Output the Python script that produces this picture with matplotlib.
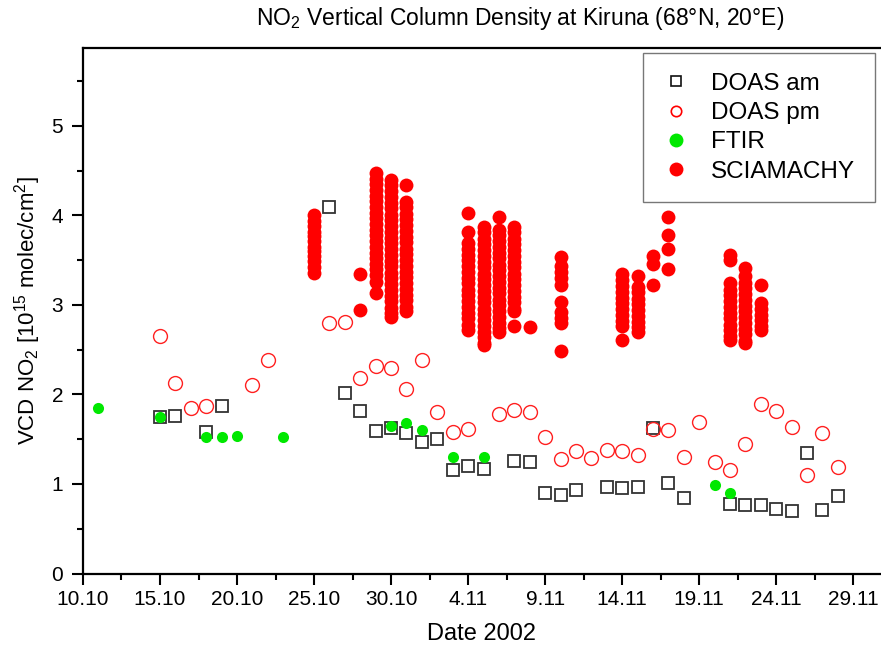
import matplotlib
matplotlib.use("Agg")
import matplotlib.pyplot as plt
import matplotlib.dates as mdates
from matplotlib.ticker import MultipleLocator, FuncFormatter
from matplotlib.lines import Line2D
import pandas as pd

plt.rcParams['font.family'] = ['Liberation Sans', 'DejaVu Sans']
plt.rcParams['mathtext.fontset'] = 'custom'
plt.rcParams['mathtext.rm'] = 'Liberation Sans'
plt.rcParams['mathtext.it'] = 'Liberation Sans:italic'
plt.rcParams['mathtext.bf'] = 'Liberation Sans:bold'

# DOAS morning values
am_dates = ["15.10", "16.10", "18.10", "19.10", "26.10", "27.10", "28.10", "29.10",
            "30.10", "31.10", "1.11", "2.11", "3.11", "4.11", "5.11", "7.11", "8.11",
            "9.11", "10.11", "11.11", "13.11", "14.11", "15.11", "16.11", "17.11",
            "18.11", "21.11", "22.11", "23.11", "24.11", "25.11", "26.11", "27.11", "28.11"]
am_values = [1.75, 1.76, 1.58, 1.87, 4.09, 2.02, 1.82, 1.59, 1.63, 1.57, 1.47, 1.50,
             1.16, 1.20, 1.17, 1.26, 1.24, 0.90, 0.88, 0.93, 0.97, 0.95, 0.97, 1.62,
             1.01, 0.84, 0.78, 0.77, 0.76, 0.72, 0.695, 1.35, 0.71, 0.87]

# DOAS afternoon values
pm_dates = ["15.10", "16.10", "17.10", "18.10", "21.10", "22.10", "26.10", "27.10",
            "28.10", "29.10", "30.10", "31.10", "1.11", "2.11", "3.11", "4.11", "6.11",
            "7.11", "8.11", "9.11", "10.11", "11.11", "12.11", "13.11", "14.11", "15.11",
            "16.11", "17.11", "18.11", "19.11", "20.11", "21.11", "22.11", "23.11",
            "24.11", "25.11", "26.11", "27.11", "28.11"]
pm_values = [2.65, 2.13, 1.85, 1.875, 2.11, 2.39, 2.80, 2.81, 2.18, 2.32, 2.29, 2.06,
             2.39, 1.80, 1.58, 1.61, 1.78, 1.83, 1.80, 1.52, 1.28, 1.37, 1.29, 1.38,
             1.37, 1.32, 1.61, 1.60, 1.30, 1.69, 1.24, 1.16, 1.45, 1.89, 1.82, 1.64,
             1.10, 1.57, 1.19]

# FTIR
ftir_dates = ["11.10", "15.10", "18.10", "19.10", "20.10", "23.10", "30.10", "31.10",
              "1.11", "3.11", "5.11", "20.11", "21.11"]
ftir_values = [1.85, 1.75, 1.53, 1.52, 1.54, 1.52, 1.65, 1.68, 1.60, 1.30, 1.30, 0.985, 0.90]

# SCIAMACHY, several ground pixels per overpass day
sci_dates = ["25.10", "28.10", "29.10", "30.10", "31.10", "4.11", "5.11", "6.11",
             "7.11", "8.11", "10.11", "14.11", "15.11", "16.11", "17.11", "21.11",
             "22.11", "23.11"]
sci_values = [
    [4.00, 3.94, 3.88, 3.82, 3.77, 3.71, 3.65, 3.60, 3.55, 3.49, 3.42, 3.36],
    [3.35, 2.94],
    [4.47, 4.41, 4.35, 4.28, 4.22, 4.16, 4.09, 4.03, 3.97, 3.90, 3.84, 3.78, 3.71,
     3.65, 3.58, 3.52, 3.46, 3.40, 3.33, 3.26, 3.13],
    [4.40, 4.34, 4.27, 4.21, 4.14, 4.08, 4.01, 3.95, 3.88, 3.82, 3.75, 3.69, 3.62,
     3.56, 3.49, 3.43, 3.36, 3.30, 3.23, 3.17, 3.10, 3.04, 2.97, 2.91, 2.87],
    [4.34, 4.15, 4.09, 4.02, 3.96, 3.89, 3.83, 3.76, 3.70, 3.63, 3.57, 3.50, 3.44,
     3.37, 3.31, 3.24, 3.18, 3.11, 3.05, 2.98, 2.93],
    [4.03, 3.82, 3.69, 3.63, 3.56, 3.50, 3.43, 3.37, 3.30, 3.24, 3.17, 3.11, 3.04,
     2.98, 2.91, 2.85, 2.78, 2.72],
    [3.87, 3.81, 3.74, 3.68, 3.61, 3.55, 3.48, 3.42, 3.35, 3.29, 3.22, 3.16, 3.09,
     3.03, 2.96, 2.90, 2.83, 2.77, 2.70, 2.64, 2.58, 2.55],
    [3.98, 3.84, 3.78, 3.71, 3.65, 3.58, 3.52, 3.45, 3.39, 3.32, 3.26, 3.19, 3.13,
     3.06, 3.00, 2.93, 2.87, 2.80, 2.74, 2.70],
    [3.87, 3.81, 3.74, 3.68, 3.61, 3.55, 3.48, 3.42, 3.35, 3.29, 3.22, 3.16, 3.09,
     3.03, 2.96, 2.93, 2.76],
    [2.75],
    [3.53, 3.44, 3.37, 3.30, 3.22, 3.03, 2.92, 2.85, 2.80, 2.48],
    [3.34, 3.28, 3.21, 3.15, 3.08, 3.02, 2.95, 2.89, 2.82, 2.76, 2.61],
    [3.32, 3.20, 3.14, 3.07, 3.01, 2.94, 2.88, 2.81, 2.75, 2.70],
    [3.55, 3.46, 3.22],
    [3.98, 3.78, 3.62, 3.40],
    [3.56, 3.50, 3.24, 3.17, 3.11, 3.04, 2.98, 2.91, 2.85, 2.78, 2.72, 2.65, 2.61],
    [3.41, 3.32, 3.25, 3.19, 3.12, 3.06, 2.99, 2.93, 2.86, 2.80, 2.73, 2.67, 2.60, 2.57],
    [3.22, 3.02, 2.96, 2.89, 2.83, 2.76, 2.72],
]


def to_dates(days):
    return pd.to_datetime([d + ".2002" for d in days], format="%d.%m.%Y")


sci_x = []
sci_y = []
for d, vals in zip(sci_dates, sci_values):
    sci_x += [d] * len(vals)
    sci_y += vals

fig = plt.figure(figsize=(8.81, 6.5), dpi=100)
ax = fig.add_axes([82.5 / 881, 1 - 573.5 / 650, (881 - 82.5) / 881, 525.5 / 650])

ax.plot(to_dates(am_dates), am_values, ls='none', marker='s', ms=8.5,
        mfc='none', mec='#333333', mew=1.3)
ax.plot(to_dates(pm_dates), pm_values, ls='none', marker='o', ms=10,
        mfc='none', mec='#ff2020', mew=1.0)
ax.plot(to_dates(ftir_dates), ftir_values, ls='none', marker='o', ms=8,
        mfc='#00e800', mec='#00e800', mew=0)
ax.plot(to_dates(sci_x), sci_y, ls='none', marker='o', ms=10,
        mfc='#ff0000', mec='#ff0000', mew=0)

start = mdates.date2num(pd.Timestamp("2002-10-10"))
ax.set_xlim(start - 0.03, start + 51.8)
ax.set_ylim(0, 5.87)

ax.xaxis.set_major_locator(MultipleLocator(5))
ax.xaxis.set_minor_locator(MultipleLocator(2.5))
ax.xaxis.set_major_formatter(FuncFormatter(
    lambda v, pos: f"{mdates.num2date(v).day}.{mdates.num2date(v).month}"))
ax.yaxis.set_major_locator(MultipleLocator(1))
ax.yaxis.set_minor_locator(MultipleLocator(0.5))

for s in ['left', 'bottom', 'top']:
    ax.spines[s].set_linewidth(1.6)
ax.spines['right'].set_visible(False)
ax.tick_params(which='major', direction='out', length=8, width=1.5, labelsize=15, pad=4)
ax.tick_params(which='minor', direction='out', length=4.5, width=1.5)
ax.tick_params(axis='y', pad=6)

ax.set_xlabel("Date 2002", fontsize=17, labelpad=10)
ax.set_ylabel(r"VCD NO$_2$ [10$^{15}$ molec/cm$^2$]", fontsize=16, labelpad=6)
fig.text(520 / 881, 1 - 18 / 650,
         r"NO$_2$ Vertical Column Density at Kiruna (68°N, 20°E)",
         fontsize=16.5, ha='center', va='center')

handles = [
    Line2D([], [], ls='none', marker='s', ms=6.5, mfc='none', mec='#111111', mew=1.2),
    Line2D([], [], ls='none', marker='o', ms=7.5, mfc='none', mec='#ff0000', mew=1.2),
    Line2D([], [], ls='none', marker='o', ms=10, mfc='#00e800', mec='#00e800', mew=0),
    Line2D([], [], ls='none', marker='o', ms=10, mfc='#ff0000', mec='#ff0000', mew=0),
]
labels = ["DOAS am", "DOAS pm", "FTIR", "SCIAMACHY"]
leg = ax.legend(handles, labels, loc='upper left', bbox_to_anchor=(0.702, 0.99),
                frameon=True, fancybox=False, edgecolor='#555555', fontsize=17.5,
                handlelength=1.1, handletextpad=0.9, labelspacing=0.3,
                borderpad=0.8, borderaxespad=0)
leg.get_frame().set_linewidth(1.0)

fig.savefig("out.png", dpi=100)
